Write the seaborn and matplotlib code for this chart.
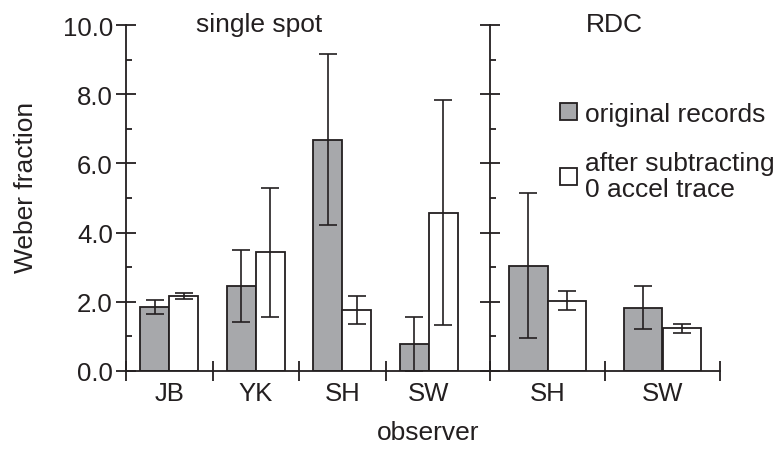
import matplotlib
matplotlib.use("Agg")
import matplotlib.pyplot as plt
import seaborn as sns
import pandas as pd
import numpy as np

# ---- data ----
left_observers = ["JB", "YK", "SH", "SW"]
left_original = [1.85, 2.46, 6.68, 0.78]
left_original_err = [0.19, 1.05, 2.47, 0.79]
left_subtracted = [2.17, 3.43, 1.76, 4.58]
left_subtracted_err = [0.08, 1.86, 0.40, 3.25]

right_observers = ["SH", "SW"]
right_original = [3.04, 1.83]
right_original_err = [2.10, 0.63]
right_subtracted = [2.03, 1.23]
right_subtracted_err = [0.28, 0.14]

conditions = ["original records", "after subtracting\n0 accel trace"]
panel_titles = ["single spot", "RDC"]
y_ticks = [0, 2, 4, 6, 8, 10]
y_ticklabels = ["0.0", "2.0", "4.0", "6.0", "8.0", "10.0"]

sns.set_theme(style="white")
plt.rcParams["font.family"] = ["Liberation Sans", "DejaVu Sans"]

INK = "#231f20"
GRAY = "#a7a8ab"
W, H = 777, 456
FS = 19

fig = plt.figure(figsize=(W / 100, H / 100), dpi=100)
fig.patch.set_facecolor("white")


def px_axes(x0, x1, ytop, ybot):
    return fig.add_axes([x0 / W, 1 - ybot / H, (x1 - x0) / W, (ybot - ytop) / H])


axL = px_axes(126, 490, 26, 372)
axR = px_axes(490, 720, 26, 372)


def draw_panel(ax, obs, orig, orig_err, sub, sub_err, xmax, show_labels):
    df = pd.DataFrame({
        "observer": obs * 2,
        "value": list(orig) + list(sub),
        "condition": [conditions[0]] * len(obs) + [conditions[1]] * len(obs),
    })
    sns.barplot(data=df, x="observer", y="value", hue="condition",
                hue_order=conditions, order=obs,
                palette=[GRAY, "white"], width=0.67, gap=0,
                edgecolor=INK, linewidth=1.3, errorbar=None,
                legend=False, ax=ax, saturation=1)
    for cont, errs in zip(ax.containers, [orig_err, sub_err]):
        xs = [p.get_x() + p.get_width() / 2 for p in cont.patches]
        hs = [p.get_height() for p in cont.patches]
        ax.errorbar(xs, hs, yerr=errs, fmt="none", ecolor=INK,
                    elinewidth=1.2, capsize=6.5, capthick=1.2, zorder=5)
    ax.set_ylim(0, 10)
    ax.set_xlim(-0.5, xmax)
    ax.set_facecolor("none")
    for s in ["top", "right"]:
        ax.spines[s].set_visible(False)
    for s in ["left", "bottom"]:
        ax.spines[s].set_color(INK)
        ax.spines[s].set_linewidth(1.3)
    # y ticks
    ax.set_yticks(y_ticks)
    ax.set_yticks([1, 3, 5, 7, 9], minor=True)
    if show_labels:
        ax.set_yticklabels(y_ticklabels)
    else:
        ax.set_yticklabels([])
    ax.tick_params(axis="y", which="major", direction="inout", length=15,
                   width=1.3, color=INK, labelsize=18.5, labelcolor=INK, pad=2,
                   left=True)
    ax.tick_params(axis="y", which="minor", direction="in", length=4.5,
                   width=1.3, color=INK, left=True)
    # x ticks: major at group boundaries, labels at category centers (minor)
    bounds = [i - 0.5 for i in range(len(obs))] + ([len(obs) - 0.5] if not show_labels else [])
    ax.set_xticks(bounds)
    ax.set_xticklabels([])
    ax.set_xticks(range(len(obs)), minor=True)
    ax.set_xticklabels(obs, minor=True)
    ax.tick_params(axis="x", which="major", direction="inout", length=14.5,
                   width=1.3, color=INK, bottom=True)
    ax.tick_params(axis="x", which="minor", length=0, labelsize=18.5,
                   labelcolor=INK, pad=7, bottom=True)
    ax.set_xlabel("")
    ax.set_ylabel("")


draw_panel(axL, left_observers, left_original, left_original_err,
           left_subtracted, left_subtracted_err, 3.5 + 18 / 86.5, True)
draw_panel(axR, right_observers, right_original, right_original_err,
           right_subtracted, right_subtracted_err, 1.5, False)

fig.text(259 / W, 1 - 25 / H, panel_titles[0], ha="center", va="center",
         fontsize=FS, color=INK)
fig.text(614 / W, 1 - 25 / H, panel_titles[1], ha="center", va="center",
         fontsize=FS, color=INK)
fig.text(26 / W, 1 - 187 / H, "Weber fraction", rotation=90, ha="center",
         va="center", fontsize=FS, color=INK)
fig.text(428 / W, 1 - 433 / H, "observer", ha="center", va="center",
         fontsize=FS, color=INK)

handles = [axR.containers[0].patches[0], axR.containers[1].patches[0]]
leg = fig.legend(handles, conditions, loc="upper left",
                 bbox_to_anchor=(560 / W, 1 - 103 / H),
                 bbox_transform=fig.transFigure, frameon=False,
                 fontsize=FS, handlelength=0.65, handleheight=0.6,
                 handletextpad=0.3, labelspacing=0.95, borderpad=0,
                 borderaxespad=0)
for t in leg.get_texts():
    t.set_color(INK)
    t.set_linespacing(1.1)

fig.savefig("out.png", dpi=100, facecolor="white")
